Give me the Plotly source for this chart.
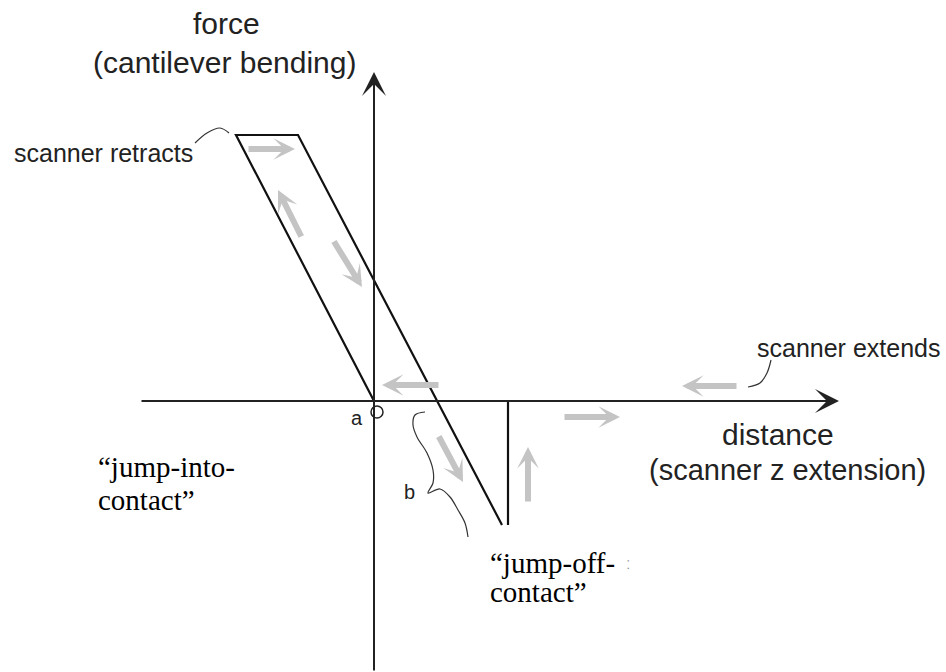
import plotly.graph_objects as go

# ---- diagram data (distance / force units, origin at contact point "a") ----
distance_axis_x = [-234, 465]
distance_axis_y = [0, 0]
force_axis_x = [0, 0]
force_axis_y = [-271, 329]

# hysteresis loop: approach line, retract plateau, retract line
loop_distance = [0, -138, -76, 128]
loop_force = [0, 266, 266, -124]

# jump-off vertical segment
jump_distance = [134, 134]
jump_force = [0, -124]

# grey direction arrows (tail -> head)
arrow_tail_x = [-127, -72, -41, 66, 64, 154, 189, 364]
arrow_tail_y = [252, 163, 161, 16, -34, -102, -16, 15]
arrow_head_x = [-79, -96, -12, 8, 89, 154, 246, 308]
arrow_head_y = [252, 211, 114, 16, -81, -46, -16, 15]

# brace "b"
brace_x = [51, 41, 39, 43, 53, 59, 59, 54, 66, 76, 84, 91, 94]
brace_y = [-11, -14, -24, -36, -52, -69, -82, -92, -88, -96, -109, -122, -136]

# leader curves
retract_leader_x = [-179, -167, -154, -145]
retract_leader_y = [258, 268, 273, 268]
extend_leader_x = [374, 386, 393, 397]
extend_leader_y = [14, 18, 28, 41]

# point a
point_a_x = [3]
point_a_y = [-11]

AX_COLOR = "#222222"
GREY = "#c4c4c4"
SANS = "Liberation Sans, Arial, sans-serif"
SERIF = "Liberation Serif, Times New Roman, serif"

fig = go.Figure()

def line(x, y, color, width, shape="linear"):
    fig.add_trace(go.Scatter(x=x, y=y, mode="lines", hoverinfo="skip",
                             line=dict(color=color, width=width, shape=shape),
                             showlegend=False))

line(loop_distance, loop_force, "#111111", 2.2)
line(jump_distance, jump_force, "#111111", 2.2)
line(brace_x, brace_y, "#333333", 1.2, "spline")
line(retract_leader_x, retract_leader_y, "#333333", 1.2, "spline")
line(extend_leader_x, extend_leader_y, "#333333", 1.2, "spline")

fig.add_trace(go.Scatter(x=point_a_x, y=point_a_y, mode="markers", hoverinfo="skip",
                         marker=dict(symbol="circle-open", size=12, color="#222222",
                                     line=dict(color="#222222", width=1.5)),
                         showlegend=False))

annotations = []
# axes with arrowheads
annotations.append(dict(x=distance_axis_x[1], y=distance_axis_y[1],
                        ax=distance_axis_x[0], ay=distance_axis_y[0],
                        xref="x", yref="y", axref="x", ayref="y", text="",
                        showarrow=True, arrowhead=3, arrowwidth=2, arrowsize=2,
                        arrowcolor=AX_COLOR, standoff=0, startstandoff=0))
annotations.append(dict(x=force_axis_x[1], y=force_axis_y[1],
                        ax=force_axis_x[0], ay=force_axis_y[0],
                        xref="x", yref="y", axref="x", ayref="y", text="",
                        showarrow=True, arrowhead=3, arrowwidth=2, arrowsize=2,
                        arrowcolor=AX_COLOR, standoff=0, startstandoff=0))
for tx, ty, hx, hy in zip(arrow_tail_x, arrow_tail_y, arrow_head_x, arrow_head_y):
    annotations.append(dict(x=hx, y=hy, ax=tx, ay=ty, xref="x", yref="y",
                            axref="x", ayref="y", text="", showarrow=True,
                            arrowhead=3, arrowwidth=6, arrowsize=0.6,
                            arrowcolor=GREY, standoff=0, startstandoff=0))

def label(text, x, y, size, font=SANS, color="#222222", xanchor="center"):
    annotations.append(dict(x=x, y=y, xref="x", yref="y", text=text,
                            showarrow=False, xanchor=xanchor, yanchor="middle",
                            font=dict(family=font, size=size, color=color)))

label("force", -148, 378, 30)
label("(cantilever bending)", -150, 339, 30)
label("scanner retracts", -362, 248, 25, xanchor="left")
label("scanner extends", 568, 53, 25, xanchor="right")
label("distance", 404, -33, 30)
label("(scanner z extension)", 554, -69, 29, xanchor="right")
label("a", -17, -17, 20)
label("b", 35, -91, 20)
label("\u201cjump-into-", -278, -66, 29, font=SERIF, color="#000000", xanchor="left")
label("contact\u201d", -278, -99, 29, font=SERIF, color="#000000", xanchor="left")
label("\u201cjump-off-", 114, -162, 29, font=SERIF, color="#000000", xanchor="left")
label("contact\u201d", 114, -191, 29, font=SERIF, color="#000000", xanchor="left")
label("\u02d0", 254, -162, 16, color="#888888")

fig.update_layout(
    width=946, height=672,
    margin=dict(l=0, r=0, t=0, b=0),
    paper_bgcolor="white", plot_bgcolor="white",
    xaxis=dict(range=[-374, 572], visible=False, fixedrange=True),
    yaxis=dict(range=[-271, 401], visible=False, fixedrange=True),
    annotations=annotations,
    showlegend=False,
)

fig.write_html("out.html", config={"displayModeBar": False})
with open("out.html", "r", encoding="utf-8") as f:
    html = f.read()
html = html.replace("<head>", "<head><style>html,body{margin:0;padding:0;overflow:hidden;}</style>", 1)
with open("out.html", "w", encoding="utf-8") as f:
    f.write(html)
